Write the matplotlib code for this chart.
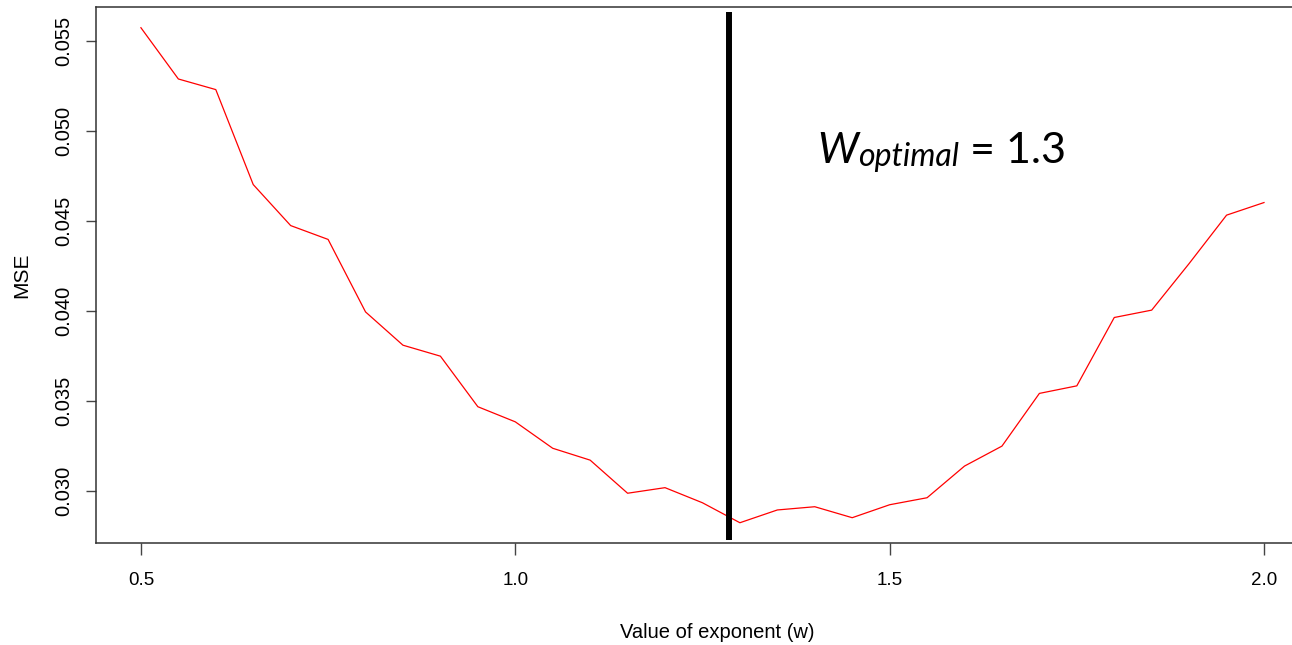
import matplotlib
matplotlib.use("Agg")
import matplotlib.pyplot as plt

# exponent values and the MSE
w_vals = [0.50, 0.55, 0.60, 0.65, 0.70, 0.75, 0.80, 0.85, 0.90, 0.95,
          1.00, 1.05, 1.10, 1.15, 1.20, 1.25, 1.30, 1.35, 1.40, 1.45,
          1.50, 1.55, 1.60, 1.65, 1.70, 1.75, 1.80, 1.85, 1.90, 1.95, 2.00]
mse_vals = [0.05574, 0.05289, 0.05230, 0.04702, 0.04474, 0.04397, 0.03994,
            0.03809, 0.03748, 0.03467, 0.03383, 0.03236, 0.03170, 0.02986,
            0.03017, 0.02933, 0.02822, 0.02893, 0.02911, 0.02850, 0.02922,
            0.02961, 0.03137, 0.03248, 0.03541, 0.03583, 0.03963, 0.04004,
            0.04263, 0.04532, 0.04602]
w_marker = 1.285          # where the black line was drawn
x_ticks = [0.5, 1.0, 1.5, 2.0]
y_ticks = [0.030, 0.035, 0.040, 0.045, 0.050, 0.055]

plt.rcParams["font.family"] = ["Liberation Sans", "DejaVu Sans"]

fig = plt.figure(figsize=(12.92, 6.45), dpi=100)
# right edge of the box runs past the image, as in the reference crop
ax = fig.add_axes([0.0743, 0.1586, 0.9388, 0.8305])

ax.plot(w_vals, mse_vals, color="#ff0000", lw=0.9)
ax.axvline(w_marker, ymin=0.005, ymax=0.99, color="black", lw=4.3,
           solid_capstyle="butt")

ax.set_xlim(0.44, 2.06)
ax.set_ylim(0.02711, 0.05689)
ax.set_xticks(x_ticks)
ax.set_xticklabels([f"{v:.1f}" for v in x_ticks], fontsize=13.5)
ax.set_yticks(y_ticks)
ax.set_yticklabels([f"{v:.3f}" for v in y_ticks], rotation=90, va="center",
                   fontsize=14.5)

for side in ["left", "bottom", "top", "right"]:
    ax.spines[side].set_color("#333333")
    ax.spines[side].set_linewidth(1.1)

ax.tick_params(axis="x", length=8.8, width=1.0, color="#444444", pad=12)
ax.tick_params(axis="y", length=7.2, width=1.0, color="#444444", pad=9.5)

ax.set_xlabel("Value of exponent (w)", fontsize=14.5)
ax.xaxis.set_label_coords(0.512, -0.15)
ax.set_ylabel("MSE", fontsize=15, va="center")
ax.yaxis.set_label_coords(-0.061, 0.5)

# annotation: W (italic) + "optimal" (smaller italic) + " = 1.3"
t1 = ax.text(0.5944, 0.7088, "W", transform=ax.transAxes, fontsize=31,
             family="Lato", style="italic", va="baseline", ha="left")
t2 = ax.annotate("optimal", xy=(1, 0), xycoords=t1, xytext=(0, -1.7),
                 textcoords="offset points", fontsize=23, family="Lato",
                 style="italic", va="bottom", ha="left")
t3 = ax.annotate(" = 1.3", xy=(1, 0), xycoords=t2, xytext=(0, 1.7),
                 textcoords="offset points", fontsize=31, family="Lato",
                 va="bottom", ha="left")

fig.savefig("out.png", dpi=100)
